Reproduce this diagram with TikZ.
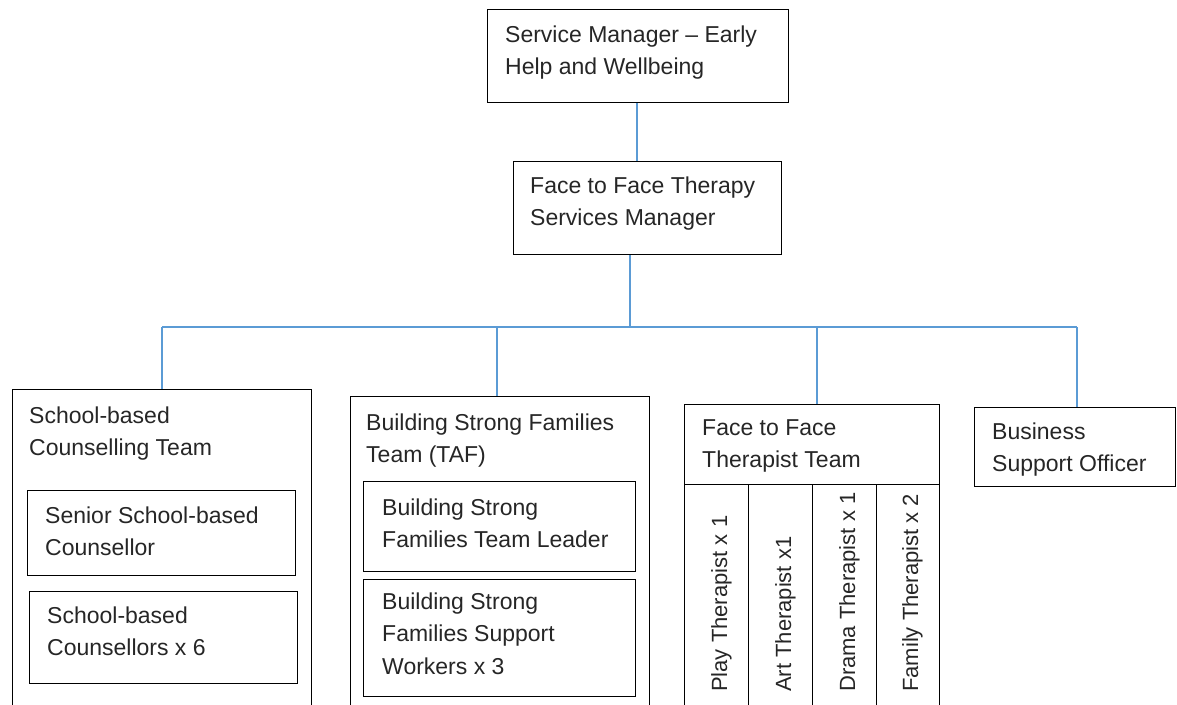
\documentclass[tikz,border=0pt]{standalone}
\usepackage{fontspec}
\setmainfont{Liberation Sans}
\definecolor{connblue}{RGB}{91,155,213}
\tikzset{
  box/.style={draw=black, line width=1.4pt, inner sep=0pt, anchor=north west, fill=none},
  txt/.style={font=\fontsize{23}{32.5}\selectfont, align=left, inner sep=0pt, anchor=north west, text=black!85},
  vtxt/.style={font=\fontsize{22}{26}\selectfont, inner sep=0pt, rotate=90, anchor=base west, text=black!85},
  conn/.style={draw=connblue, line width=1.3pt}
}
\begin{document}
\begin{tikzpicture}[x=1pt, y=-1pt]
\useasboundingbox (0,0) rectangle (1177,704);
\clip (0,0) rectangle (1177,704);
% top boxes
\node[box, minimum width=301pt, minimum height=93pt] (sm) at (487,9) {};
\node[txt] (smt) at (505,19.25) {\strut Service Manager – Early\\\strut Help and Wellbeing};
\node[box, minimum width=268pt, minimum height=93pt] (ftf) at (513,161) {};
\node[txt] (ftft) at (530,170.25) {\strut Face to Face Therapy\\\strut Services Manager};
% team boxes
\node[box, minimum width=299pt, minimum height=340pt] (sbc) at (12,389) {};
\node[txt] (sbct) at (29,400.25) {\strut School-based\\\strut Counselling Team};
\node[box, minimum width=268pt, minimum height=85pt] (ssc) at (27,490) {};
\node[txt] (ssct) at (45,500.25) {\strut Senior School-based\\\strut Counsellor};
\node[box, minimum width=268pt, minimum height=92pt] (scs) at (29,591) {};
\node[txt] (scst) at (47,600.25) {\strut School-based\\\strut Counsellors x 6};

\node[box, minimum width=299pt, minimum height=330pt] (bsf) at (350,396) {};
\node[txt] (bsft) at (366,407.25) {\strut Building Strong Families\\\strut Team (TAF)};
\node[box, minimum width=272pt, minimum height=90pt] (bsl) at (363,481) {};
\node[txt] (bslt) at (382,492.25) {\strut Building Strong\\\strut Families Team Leader};
\node[box, minimum width=272pt, minimum height=117pt] (bsw) at (363,579) {};
\node[txt] (bswt) at (382,586.25) {\strut Building Strong\\\strut Families Support\\\strut Workers x 3};

\node[box, minimum width=255pt, minimum height=80pt] (fft) at (684,404) {};
\node[txt] (fftt) at (702,412.25) {\strut Face to Face\\\strut Therapist Team};
\node[box, minimum width=64pt, minimum height=240pt] (play) at (684,484) {};
\node[box, minimum width=64pt, minimum height=240pt] (art) at (748,484) {};
\node[box, minimum width=64pt, minimum height=240pt] (drama) at (812,484) {};
\node[box, minimum width=63pt, minimum height=240pt] (family) at (876,484) {};
\node[vtxt] (playt) at (727,692) {Play Therapist x 1};
\node[vtxt] (artt) at (791,692) {Art Therapist x1};
\node[vtxt] (dramat) at (855,692) {Drama Therapist x 1};
\node[vtxt] (familyt) at (918,692) {Family Therapist x 2};

\node[box, minimum width=201pt, minimum height=79pt] (bso) at (974,407) {};
\node[txt] (bsot) at (992,416.25) {\strut Business\\\strut Support Officer};

% connectors
\coordinate (busL) at (162,327);
\coordinate (busR) at (1077,327);
\coordinate (busM) at (630,327);
\coordinate (d2) at (497,327);
\coordinate (d3) at (817,327);
\coordinate (d4) at (1077,327);
\draw[conn] (sm.south -| 637,0) -- (ftf.north -| 637,0);
\draw[conn] (busM |- ftf.south) -- (busM);
\draw[conn] (busL) -- (busR);
\draw[conn] (busL) -- (busL |- sbc.north);
\draw[conn] (d2) -- (d2 |- bsf.north);
\draw[conn] (d3) -- (d3 |- fft.north);
\draw[conn] (d4) -- (d4 |- bso.north);
\end{tikzpicture}
\end{document}
